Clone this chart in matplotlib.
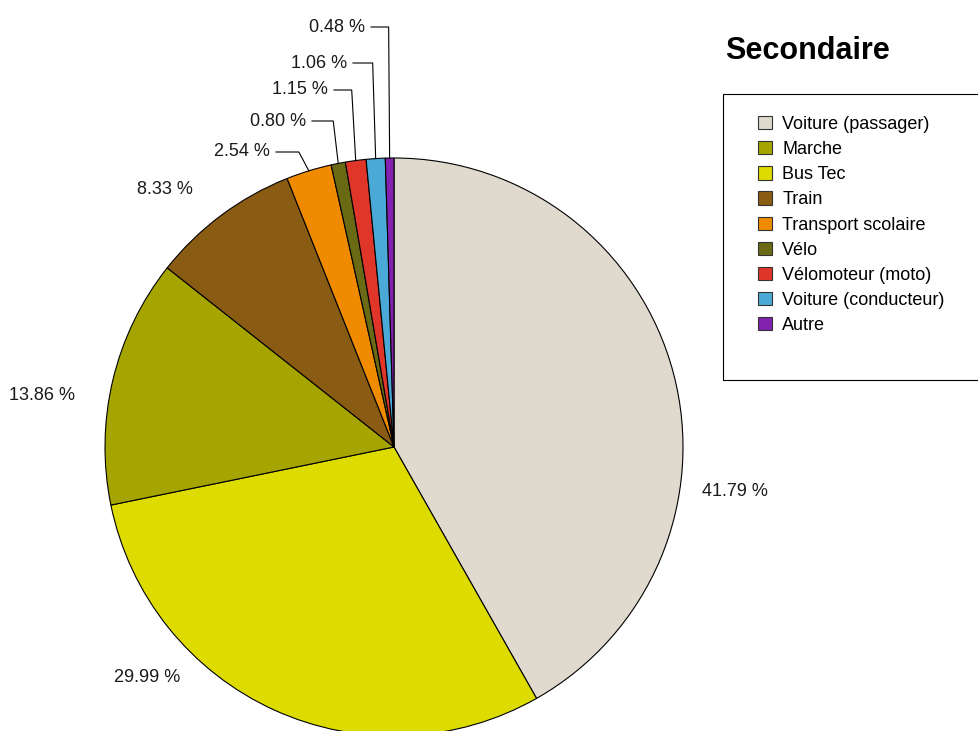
import matplotlib.pyplot as plt
from matplotlib.patches import Patch, Rectangle
import numpy as np

plt.rcParams["font.family"] = ["Liberation Sans", "DejaVu Sans"]

# slices in drawing order (clockwise from 12 o'clock)
modes = [
    "Voiture (passager)",
    "Bus Tec",
    "Marche",
    "Train",
    "Transport scolaire",
    "Vélo",
    "Vélomoteur (moto)",
    "Voiture (conducteur)",
    "Autre",
]
shares = [41.79, 29.99, 13.86, 8.33, 2.54, 0.80, 1.15, 1.06, 0.48]
colors = [
    "#dfd9ce",
    "#dedb00",
    "#a6a500",
    "#8a5b12",
    "#f08b00",
    "#6a6a14",
    "#e0362a",
    "#4aa9d7",
    "#8322b0",
]
legend_order = [
    "Voiture (passager)",
    "Marche",
    "Bus Tec",
    "Train",
    "Transport scolaire",
    "Vélo",
    "Vélomoteur (moto)",
    "Voiture (conducteur)",
    "Autre",
]
title = "Secondaire"

W, H = 979, 731
fig = plt.figure(figsize=(W / 100, H / 100), dpi=100)
ax = fig.add_axes([0, 0, 1, 1])

# work in image pixel coordinates (y measured from the top)
def Y(y):
    return H - y

cx, cy, R = 394, 447, 289

wedges, _ = ax.pie(
    shares,
    colors=colors,
    startangle=90,
    counterclock=False,
    radius=R,
    center=(cx, Y(cy)),
    wedgeprops=dict(edgecolor="black", linewidth=0.8),
)
ax.set_xlim(0, W)
ax.set_ylim(0, H)
ax.set_aspect("auto")
ax.axis("off")

labels = [f"{v:.2f} %" for v in shares]

# big slices: label placed freely around the pie (centre of text)
free_pos = {0: (735, 491), 1: (147, 678), 2: (42, 396), 3: (165, 190)}
for i, (x, y) in free_pos.items():
    ax.text(x, Y(y), labels[i], ha="center", va="center", fontsize=13,
            color="#1a1a1a")

# small slices: elbow leader lines, text right edge and line height
leader_pos = {4: (270, 152, 10), 5: (306, 121, 5), 6: (328, 90, 4),
              7: (347, 63, 3), 8: (365, 27, 1)}
for i, (tx, ly, dx) in leader_pos.items():
    w = wedges[i]
    mid = np.deg2rad((w.theta1 + w.theta2) / 2)
    px = cx + R * np.cos(mid)
    py = cy - R * np.sin(mid)
    ax.plot([tx + 6, px - dx, px], [Y(ly), Y(ly), Y(py)], color="black",
            linewidth=0.8)
    ax.text(tx, Y(ly), labels[i], ha="right", va="center", fontsize=13,
            color="#1a1a1a")

ax.text(725, Y(59), title, fontsize=22, fontweight="bold", va="baseline",
        ha="left")

# legend box runs off the right edge
ax.add_patch(Rectangle((723, Y(380)), 300, 286, facecolor="none",
                       edgecolor="black", linewidth=0.8, clip_on=False))

color_of = dict(zip(modes, colors))
handles = [Patch(facecolor=color_of[m], edgecolor="#333333", linewidth=0.8,
                 label=m) for m in legend_order]
ax.legend(
    handles=handles,
    loc="upper left",
    bbox_to_anchor=(758, Y(116)),
    bbox_transform=ax.transData,
    frameon=False,
    fontsize=13,
    handlelength=0.75,
    handleheight=0.75,
    handletextpad=0.6,
    labelspacing=0.45,
    borderpad=0,
    borderaxespad=0,
)

plt.savefig("out.png", dpi=100)
